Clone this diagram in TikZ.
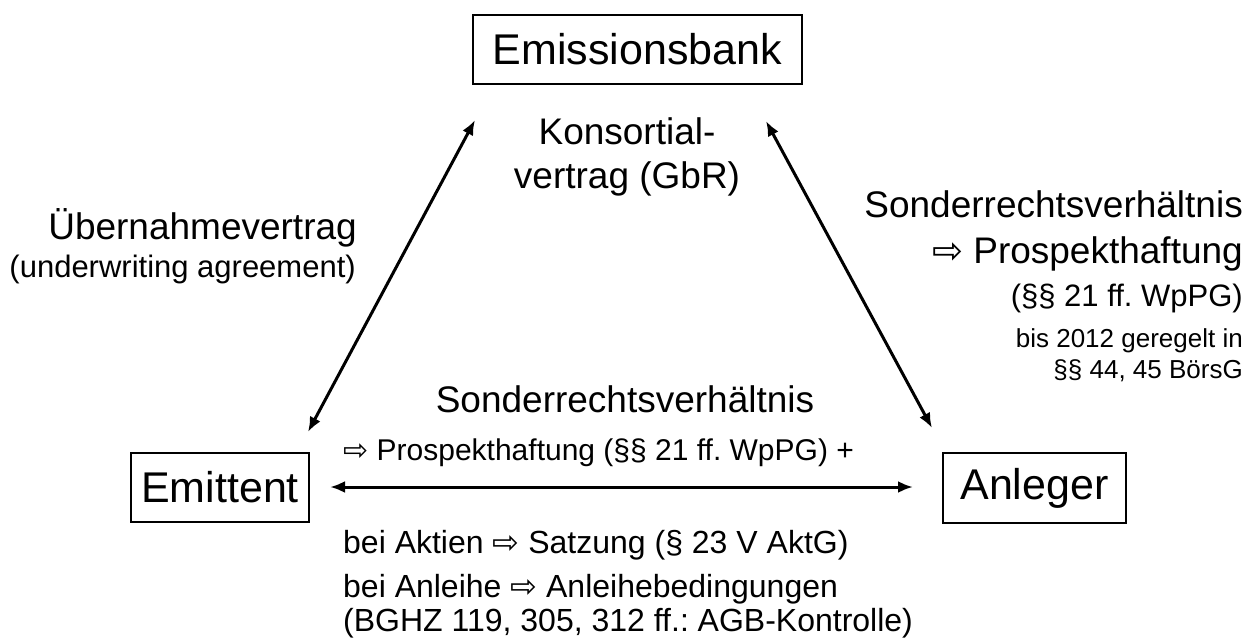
\documentclass[tikz,border=0pt]{standalone}
\usepackage{fontspec}
\setmainfont{Liberation Sans}
\newfontfamily\symfont{DejaVu Sans}
\newcommand{\wra}{{\symfont ⇨}}
\usetikzlibrary{arrows.meta}
\frenchspacing
\tikzset{
  partybox/.style={draw, line width=2pt, inner sep=0pt, font=\fontsize{43}{50}\selectfont},
  big/.style={inner sep=0pt, font=\fontsize{37}{44}\selectfont},
  mid/.style={inner sep=0pt, font=\fontsize{31}{37}\selectfont},
  midsmall/.style={inner sep=0pt, font=\fontsize{30}{36}\selectfont},
  lower/.style={inner sep=0pt, font=\fontsize{32}{38}\selectfont},
  small/.style={inner sep=0pt, font=\fontsize{26}{31}\selectfont},
  rel/.style={line width=3pt, {Latex[length=15pt,width=12pt]}-{Latex[length=15pt,width=12pt]}}
}
\begin{document}
\begin{tikzpicture}[x=1pt,y=-1pt]
\useasboundingbox (0,0) rectangle (1255,639);
% parties
\node[partybox, minimum width=329pt, minimum height=69pt] (bank) at (637.5,49.5) {Emissionsbank};
\node[partybox, minimum width=178pt, minimum height=69pt] (emit) at (220,487.5) {Emittent};
\node[partybox, minimum width=183pt, minimum height=70pt] (anl) at (1034.5,488) {Anleger};
% arrow ends
\coordinate (lt) at (475,120);
\coordinate (lb) at (308,432);
\coordinate (rt) at (766,121);
\coordinate (rb) at (932,428);
\coordinate (hl) at (330,487);
\coordinate (hr) at (913,487);
\draw[rel] (lt) -- (lb);
\draw[rel] (rt) -- (rb);
\draw[rel] (hl) -- (hr);
% top centre
\node[big, anchor=base] (k1) at (627,145) {Konsortial-};
\node[big, anchor=base] (k2) at (627,189) {vertrag (GbR)};
% left
\node[big, anchor=base east] (u1) at (357,240) {Übernahmevertrag};
\node[mid, anchor=base east] (u2) at (356,277) {(underwriting agreement)};
% right
\node[big, anchor=base east] (r1) at (1243,218) {Sonderrechtsverhältnis};
\node[big, anchor=base east] (r2) at (1243,263) {\wra\ Prospekthaftung};
\node[mid, anchor=base east] (r3) at (1243,306) {(§§ 21 ff. WpPG)};
\node[small, anchor=base east] (r4) at (1243,347) {bis 2012 geregelt in\ };
\node[small, anchor=base east] (r5) at (1243,378) {§§ 44, 45 BörsG};
% bottom
\node[big, anchor=base] (b1) at (625,412) {Sonderrechtsverhältnis};
\node[midsmall, anchor=base west] (b2) at (343,460) {\wra\ Prospekthaftung (§§ 21 ff. WpPG) +};
\node[lower, anchor=base west] (b3) at (343,553) {bei Aktien \wra\ Satzung (§ 23 V AktG)};
\node[lower, anchor=base west] (b4) at (343,597) {bei Anleihe \wra\ Anleihebedingungen};
\node[lower, anchor=base west] (b5) at (343,631) {(BGHZ 119, 305, 312 ff.: AGB-Kontrolle)};
\end{tikzpicture}
\end{document}
